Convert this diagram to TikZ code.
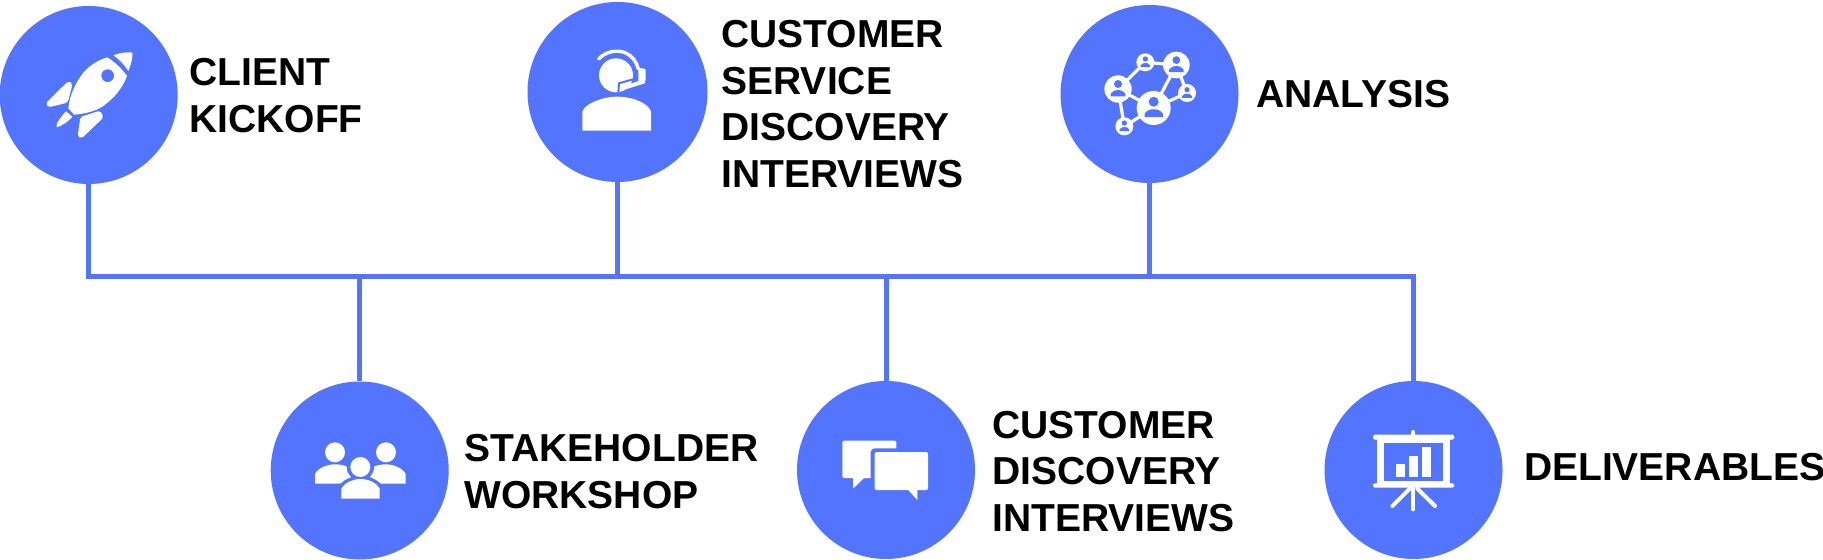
\documentclass[tikz,border=0pt]{standalone}
\usepackage{fontspec}
\setmainfont{Liberation Sans}
\definecolor{brandblue}{HTML}{5274FF}
\tikzset{
  disc/.style={circle,fill=brandblue,draw=none,minimum size=89pt,inner sep=0pt,outer sep=0pt},
  label text/.style={anchor=north west,inner sep=0pt,outer sep=0pt,align=left,text=black,
    font=\fontsize{19.5}{23.25}\selectfont\bfseries},
  bus/.style={draw=brandblue,line width=2.5pt},
  zoomed/.style={x=0.16667pt,y=-0.16667pt},
  edge line/.style={draw=white,line width=1.6pt},
}
\newcommand{\netperson}[3]{%
  \begin{scope}[shift={(#1,#2)},scale=#3/41]
    \fill[white] (0,0) circle (41);
    \fill[brandblue] (0,-15) circle (12);
    \fill[brandblue] (-22,22) -- (-22,14) .. controls (-18,6) and (-8,3) .. (0,3)
      .. controls (8,3) and (18,6) .. (22,14) -- (22,22) -- cycle;
  \end{scope}}
\begin{document}
\begin{tikzpicture}[x=0.5pt,y=-0.5pt]
\useasboundingbox (0,0) rectangle (1823,560);
\fill[white] (0,0) rectangle (1823,560);

\coordinate (busline) at (0,276.5);

\node[disc] (kickoff) at (88.7,95) {};
\node[disc,minimum size=90pt] (service) at (617.5,92) {};
\node[disc] (analysis) at (1149.5,94) {};
\node[disc] (workshop) at (359.7,470.5) {};
\node[disc] (interviews) at (886,470) {};
\node[disc] (deliver) at (1413.5,470) {};

\draw[bus] (kickoff.south) -- (kickoff.south |- busline) -- (deliver.north |- busline) -- (deliver.north);
\draw[bus] (service.south) -- (service.south |- busline);
\draw[bus] (analysis.south) -- (analysis.south |- busline);
\draw[bus] (workshop.north) -- (workshop.north |- busline);
\draw[bus] (interviews.north) -- (interviews.north |- busline);

\node[label text] (t1) at (189.5,58.5) {CLIENT\\KICKOFF};
\node[label text] (t2) at (721.5,20.5) {CUSTOMER\\SERVICE\\DISCOVERY\\INTERVIEWS};
\node[label text] (t3) at (1256.5,80.5) {ANALYSIS};
\node[label text] (t4) at (464.5,434.5) {STAKEHOLDER\\WORKSHOP};
\node[label text] (t5) at (992.5,411) {CUSTOMER\\DISCOVERY\\INTERVIEWS};
\node[label text] (t6) at (1524,453) {DELIVERABLES};

% rocket
\begin{scope}[zoomed]
\fill[white] (340,166) .. controls (360,158) and (385,155) .. (397,158) .. controls (399,170) and (393,195) .. (385,213) .. controls (372,193) and (358,178) .. (340,166) -- cycle;
\fill[white] (322,172) .. controls (340,183) and (365,205) .. (381,228) .. controls (365,270) and (340,295) .. (310,318) .. controls (285,335) and (250,342) .. (222,344) -- (205,325) .. controls (208,290) and (225,250) .. (250,218) .. controls (270,195) and (295,180) .. (322,172) -- cycle;
\fill[brandblue] (323,227) circle (19);
\fill[white,rounded corners=1pt] (205,243) -- (218,251) -- (203,308) -- (145,322) -- (137,310) -- cycle;
\fill[white] (198,334) -- (217,350) .. controls (205,365) and (185,378) .. (170,382) .. controls (165,372) and (185,348) .. (198,334) -- cycle;
\fill[white,rounded corners=1pt] (300,332) -- (311,352) -- (245,415) -- (233,410) -- (241,351) -- cycle;
\end{scope}

% headset person
\begin{scope}[shift={(510,0)},zoomed]
\fill[white] (217,392) -- (217,335) .. controls (225,310) and (280,290) .. (320,290) .. controls (370,290) and (415,310) .. (423,335) -- (423,392) -- cycle;
\fill[white] (318,226) circle (51);
\draw[brandblue,line width=1pt] (325,278) -- (327,250) -- (390,232) -- (390,205);
\draw[white,line width=1.7pt,line cap=round] (266,177) .. controls (285,155) and (320,148) .. (345,158) .. controls (365,166) and (380,185) .. (385,207);
\fill[white,rounded corners=0.5pt] (385,203) -- (407,207) -- (407,243) -- (385,250) -- cycle;
\draw[white,line width=2pt,line cap=round] (340,264) -- (400,245);
\end{scope}

% network
\begin{scope}[shift={(1040,0)},zoomed]
\draw[edge line] (234,267) -- (316,187) -- (409,195) -- (341,324) -- (441,279) -- (409,195);
\draw[edge line] (234,267) -- (341,324) -- (253,379) -- cycle;
\netperson{234}{267}{41}
\netperson{316}{187}{27}
\netperson{409}{195}{40}
\netperson{441}{279}{27}
\netperson{341}{324}{51}
\netperson{253}{379}{27}
\end{scope}

% group
\begin{scope}[shift={(260,270)},zoomed]
\fill[white] (225,547) circle (30);
\fill[white] (378,547) circle (30);
\fill[white] (165,641) -- (165,612) .. controls (175,592) and (205,583) .. (225,583) .. controls (240,583) and (255,586) .. (265,592) -- (285,630) -- (237,641) -- cycle;
\fill[white] (437,641) -- (437,612) .. controls (427,592) and (397,583) .. (378,583) .. controls (363,583) and (348,586) .. (338,592) -- (318,630) -- (365,641) -- cycle;
\fill[brandblue] (301,591) circle (41);
\fill[brandblue] (233,695) -- (233,655) .. controls (245,628) and (280,617) .. (301,617) .. controls (325,617) and (358,628) .. (370,655) -- (370,695) -- cycle;
\fill[white] (301,591) circle (30);
\fill[white] (244,686) -- (244,655) .. controls (255,637) and (280,627) .. (301,627) .. controls (325,627) and (348,637) .. (359,655) -- (359,686) -- cycle;
\end{scope}

% chat bubbles
\begin{scope}[shift={(780,270)},zoomed]
\fill[white,rounded corners=1pt] (187,624) -- (187,512) -- (349,512) -- (349,560) -- (300,624) -- cycle;
\fill[white] (219,620) -- (219,656) -- (252,624) -- (272,624) -- (272,600) -- (219,600) -- cycle;
\fill[brandblue,rounded corners=2pt] (272,535) rectangle (456,672);
\fill[white,rounded corners=1pt] (284,546) rectangle (444,660);
\fill[white] (380,655) -- (412,690) -- (412,655) -- cycle;
\end{scope}

% presentation board
\begin{scope}[shift={(1300,270)},zoomed]
\draw[white,line width=2pt,line cap=round] (340,486) -- (340,497);
\fill[white] (232,500) rectangle (450,647);
\fill[brandblue] (252,520) rectangle (430,632);
\fill[white,rounded corners=0.8pt] (219,494) rectangle (463,509);
\fill[white,rounded corners=0.8pt] (219,640) rectangle (463,653);
\fill[white] (289,582) rectangle (316,621);
\fill[white] (328,559) rectangle (355,621);
\fill[white] (366,531) rectangle (392,621);
\draw[white,line width=2pt,line cap=round] (340,653) -- (340,718);
\draw[white,line width=2pt,line cap=round] (329,656) -- (277,708);
\draw[white,line width=2pt,line cap=round] (352,656) -- (405,708);
\end{scope}
\end{tikzpicture}
\end{document}
